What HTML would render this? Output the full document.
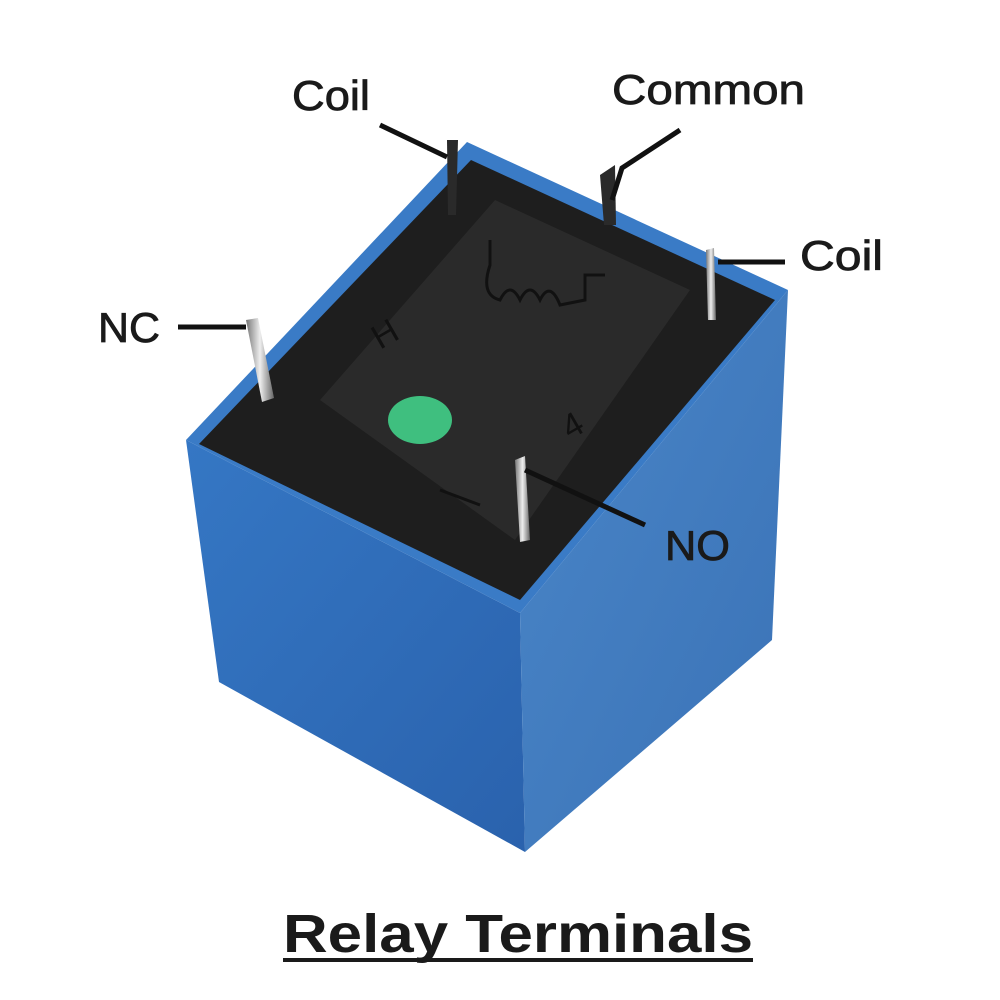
<!DOCTYPE html>
<html><head><meta charset="utf-8"><style>
body{margin:0;background:#fff;width:1000px;height:1000px;overflow:hidden}
svg{display:block}
text{font-family:"Liberation Sans",sans-serif;fill:#1a1a1a}
</style></head><body>
<svg width="1000" height="1000" viewBox="0 0 1000 1000">
<defs>
<linearGradient id="lf" x1="0" y1="0" x2="1" y2="1"><stop offset="0" stop-color="#3577c4"/><stop offset="1" stop-color="#2a62ad"/></linearGradient>
<linearGradient id="rf" x1="0" y1="0" x2="1" y2="1"><stop offset="0" stop-color="#4a86c8"/><stop offset="1" stop-color="#3a72b6"/></linearGradient>
<linearGradient id="pin" x1="0" x2="1"><stop offset="0" stop-color="#777"/><stop offset=".5" stop-color="#eee"/><stop offset="1" stop-color="#666"/></linearGradient>
</defs>
<!-- faces -->
<polygon points="186,440 520,613 525,852 219,682" fill="url(#lf)"/>
<polygon points="520,613 788,290 772,640 525,852" fill="url(#rf)"/>
<polygon points="186,440 467,142 788,290 520,613" fill="#3a7bc6"/>
<polygon points="199,444 471,160 775,300 520,600" fill="#1e1e1e"/>
<polygon points="320,400 495,200 690,290 515,540" fill="#2a2a2a"/>
<!-- markings -->
<path d="M490,240 l0,25 q-10,30 10,35 q10,-20 20,0 q10,-20 20,0 q10,-20 20,5 l25,-5 l0,-25 l20,0" fill="none" stroke="#111" stroke-width="3"/>
<text x="380" y="350" font-size="34" transform="rotate(-30 380 350)" style="fill:#111">H</text>
<text x="570" y="440" font-size="34" transform="rotate(-30 570 440)" style="fill:#111">4</text>
<path d="M440,490 l40,15" stroke="#111" stroke-width="3"/>
<ellipse cx="420" cy="420" rx="32" ry="24" fill="#3fbf7f"/>
<!-- pins -->
<polygon points="447,140 458,140 456,215 448,215" fill="#2a2a2a"/>
<polygon points="600,175 615,165 616,225 604,225" fill="#2a2a2a"/>
<polygon points="706,250 714,248 716,320 708,320" fill="url(#pin)"/>
<polygon points="246,320 258,318 274,398 262,402" fill="url(#pin)"/>
<polygon points="515,460 525,456 530,540 520,542" fill="url(#pin)"/>
<!-- leaders -->
<g stroke="#111" stroke-width="5" fill="none">
<line x1="380" y1="125" x2="447" y2="157"/>
<polyline points="680,130 622,168 612,200"/>
<line x1="718" y1="262" x2="785" y2="262"/>
<line x1="178" y1="327" x2="246" y2="327"/>
<line x1="525" y1="470" x2="645" y2="525"/>
</g>
<g stroke="#1a1a1a" stroke-width="0.8">
<text x="292" y="110" font-size="42" textLength="78" lengthAdjust="spacingAndGlyphs">Coil</text>
<text x="612" y="104" font-size="42" textLength="193" lengthAdjust="spacingAndGlyphs">Common</text>
<text x="800" y="270" font-size="42" textLength="83" lengthAdjust="spacingAndGlyphs">Coil</text>
<text x="98" y="342" font-size="42" textLength="62" lengthAdjust="spacingAndGlyphs">NC</text>
<text x="665" y="560" font-size="42" textLength="65" lengthAdjust="spacingAndGlyphs">NO</text>
</g>
<text x="283" y="952" font-size="54" font-weight="bold" textLength="470" lengthAdjust="spacingAndGlyphs">Relay Terminals</text>
<rect x="283" y="958" width="470" height="4" fill="#1a1a1a"/>
</svg>
</body></html>
